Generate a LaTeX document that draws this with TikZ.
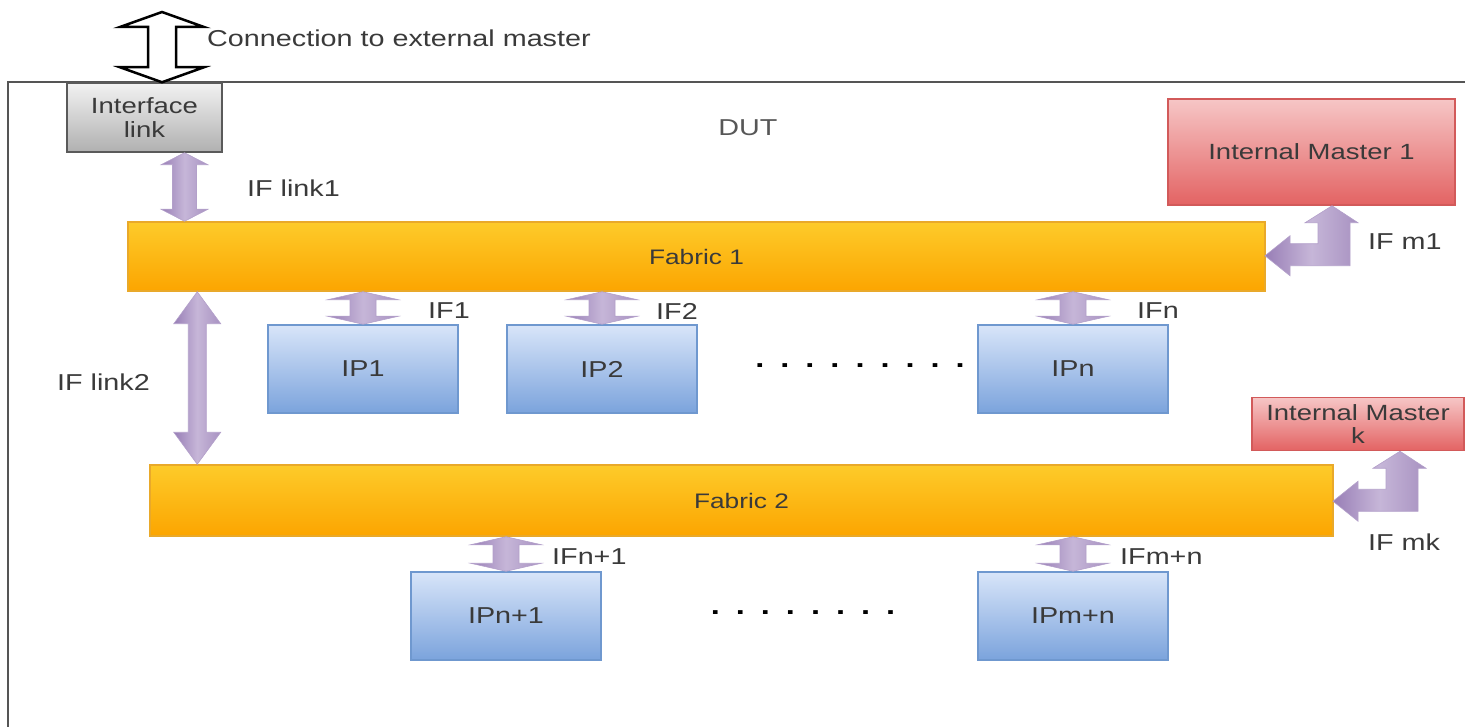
\documentclass[tikz,border=0pt]{standalone}
\usepackage{fontspec}
\setmainfont{Liberation Sans}[FakeStretch=1.25]
\usetikzlibrary{calc}
\definecolor{txt}{HTML}{3A3A3A}
\definecolor{fabtop}{HTML}{FDCB2A}
\definecolor{fabbot}{HTML}{FCA500}
\definecolor{fabdraw}{HTML}{E9A92A}
\definecolor{iptop}{HTML}{D8E5F9}
\definecolor{ipbot}{HTML}{7BA3DC}
\definecolor{ipdraw}{HTML}{6F98CF}
\definecolor{mtop}{HTML}{F6C6C6}
\definecolor{mbot}{HTML}{E36363}
\definecolor{mdraw}{HTML}{D25A5A}
\definecolor{gtop}{HTML}{F2F2F2}
\definecolor{gbot}{HTML}{B0B0B0}
\definecolor{gdraw}{HTML}{5A5A5A}
\definecolor{arrdark}{HTML}{987EB6}
\definecolor{arrlight}{HTML}{C6B6D8}
\definecolor{arrdraw}{HTML}{B3A0CA}
\definecolor{framecol}{HTML}{555555}
\newcommand\vdarrow[6]{% #1 style, #2 top point, #3 bottom point, #4 shaft half, #5 head half, #6 head length
  \path[#1] let \p1=#2, \p2=#3 in
  (\x1,\y1) -- (\x1+#5,\y1-#6) -- (\x1+#4,\y1-#6) -- (\x1+#4,\y2+#6) -- (\x1+#5,\y2+#6) -- (\x1,\y2)
  -- (\x1-#5,\y2+#6) -- (\x1-#4,\y2+#6) -- (\x1-#4,\y1-#6) -- (\x1-#5,\y1-#6) -- cycle;}
\newcommand\bentarrow[1]{%
  \path[blockarrow, shift={(#1)}] (0,0) -- (26,17) -- (18,17) -- (18,60) -- (-42,60) -- (-42,70)
  -- (-67,50) -- (-42,30) -- (-42,38) -- (-14,38) -- (-14,17) -- (-27,17) -- cycle;}
\newcommand\dotsp{\hspace{16pt}}
\begin{document}
\begin{tikzpicture}[x=1pt,y=-1pt,
  every node/.style={font=\fontsize{23}{23}\selectfont, text=txt},
  box/.style={rectangle, inner sep=0pt, line width=1.5pt},
  fabric/.style={box, top color=fabtop, bottom color=fabbot, draw=fabdraw, minimum height=69pt},
  ipbox/.style={box, top color=iptop, bottom color=ipbot, draw=ipdraw, minimum width=190pt, minimum height=88pt},
  master/.style={box, top color=mtop, bottom color=mbot, draw=mdraw, align=center},
  linkbox/.style={box, top color=gtop, bottom color=gbot, draw=gdraw, align=center},
  blockarrow/.style={left color=arrdark, right color=arrdark!85, middle color=arrlight, draw=arrdraw, line width=0.6pt},
  extarrow/.style={fill=white, draw=black, line width=2.5pt, line join=miter},
  lbl/.style={anchor=west, inner sep=0pt},
  dotrow/.style={inner sep=0pt, font=\fontsize{26}{26}\selectfont\bfseries, text=black},
]
\useasboundingbox (0,0) rectangle (1465,727);
% DUT frame
\draw[framecol, line width=2pt] (8,740) -- (8,82) -- (1470,82);
\node[text=txt!85] (dut) at (748,128) {DUT};

% boxes
\node[linkbox, minimum width=155pt, minimum height=69pt, font=\fontsize{22}{22}\selectfont] (intf) at (144.5,117.5) {Interface\\[2pt]link};
\node[master, minimum width=287pt, minimum height=106pt, font=\fontsize{22}{22}\selectfont] (m1) at (1311.5,152) {Internal Master 1};
\node[fabric, minimum width=1137pt, font=\fontsize{21}{21}\selectfont] (fab1) at (696.5,256.5) {Fabric 1};
\node[ipbox] (ip1) at (363,369) {IP1};
\node[ipbox] (ip2) at (602,369) {IP2};
\node[ipbox] (ipn) at (1073,369) {IPn};
\node[master, minimum width=212pt, minimum height=53pt, font=\fontsize{22}{22}\selectfont] (mk) at (1358,424) {Internal Master\\[1pt]k};
\node[fabric, minimum width=1183pt, minimum height=71pt, font=\fontsize{21}{21}\selectfont] (fab2) at (741.5,500.5) {Fabric 2};
\node[ipbox] (ipn1) at (506,616) {IPn+1};
\node[ipbox] (ipmn) at (1073,616) {IPm+n};

% dots
\node[dotrow] (dots1) at (860,366) {.\dotsp.\dotsp.\dotsp.\dotsp.\dotsp.\dotsp.\dotsp.\dotsp.};
\node[dotrow] (dots2) at (803,613) {.\dotsp.\dotsp.\dotsp.\dotsp.\dotsp.\dotsp.\dotsp.};

% external connection
\coordinate (extTop) at (162,12);
\vdarrow{extarrow}{(extTop)}{(extTop |- intf.north)}{14pt}{42pt}{15pt}
\node[lbl] (lext) at (207,38) {Connection to external master};

% IF link1
\coordinate (l1top) at ([xshift=40pt]intf.south);
\vdarrow{blockarrow}{(l1top)}{(l1top |- fab1.north)}{12pt}{23.5pt}{12pt}
\node[lbl] (lil1) at (247,188) {IF link1};

% IF link2
\coordinate (l2top) at ([xshift=70pt]fab1.south west);
\vdarrow{blockarrow}{(l2top)}{(l2top |- fab2.north)}{9pt}{23.5pt}{32pt}
\node[lbl] (lil2) at (57,382) {IF link2};

% fabric 1 to IPs
\vdarrow{blockarrow}{(ip1.north |- fab1.south)}{(ip1.north)}{13pt}{35.5pt}{8pt}
\vdarrow{blockarrow}{(ip2.north |- fab1.south)}{(ip2.north)}{13pt}{35.5pt}{8pt}
\vdarrow{blockarrow}{(ipn.north |- fab1.south)}{(ipn.north)}{13pt}{35.5pt}{8pt}
\node[lbl] (lif1) at (428,311) {IF1};
\node[lbl] (lif2) at (656,311) {IF2};
\node[lbl] (lifn) at (1137,311) {IFn};

% fabric 2 to IPs
\vdarrow{blockarrow}{(ipn1.north |- fab2.south)}{(ipn1.north)}{13pt}{35.5pt}{8pt}
\vdarrow{blockarrow}{(ipmn.north |- fab2.south)}{(ipmn.north)}{13pt}{35.5pt}{8pt}
\node[lbl] (lifn1) at (552,557) {IFn+1};
\node[lbl] (lifmn) at (1120,557) {IFm+n};

% masters to fabrics
\coordinate (m1tip) at ([xshift=20.5pt]m1.south);
\bentarrow{m1tip}
\node[lbl] (lm1) at (1368,242) {IF m1};
\coordinate (mktip) at ([xshift=42pt]mk.south);
\bentarrow{mktip}
\node[lbl] (lmk) at (1368,542) {IF mk};
\end{tikzpicture}
\end{document}
